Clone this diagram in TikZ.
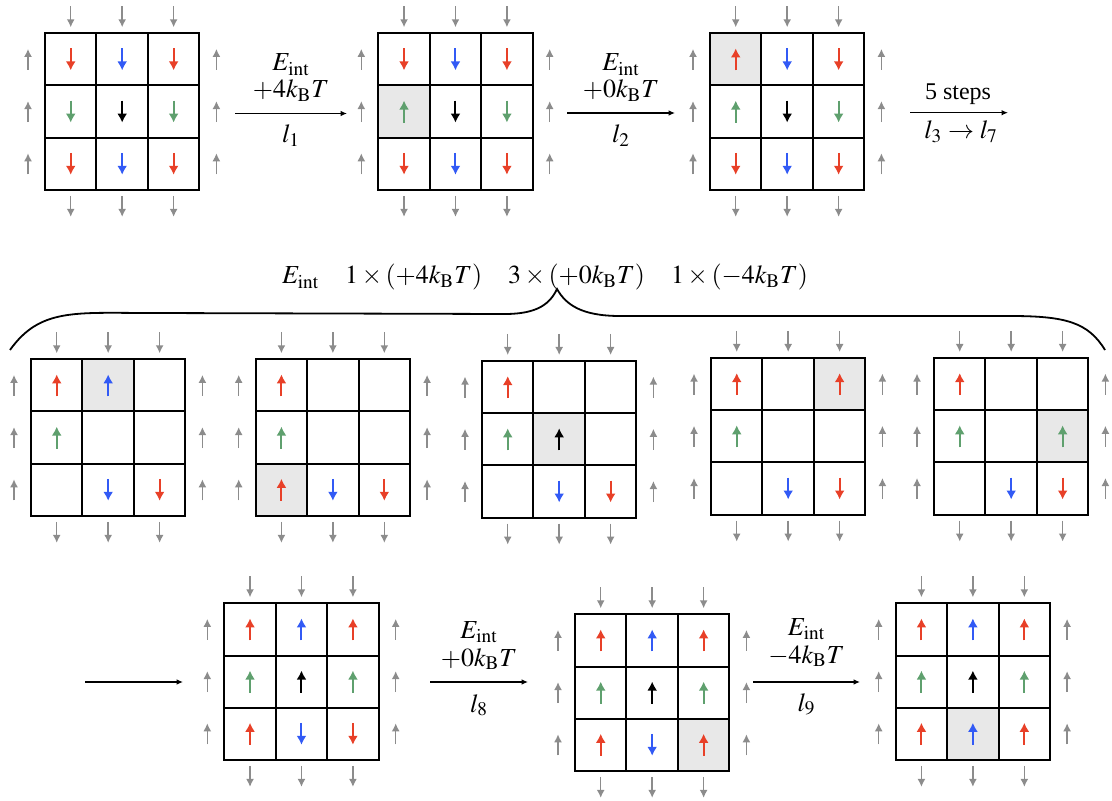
\documentclass[tikz,border=0pt,12pt]{standalone}
\usepackage{mathptmx}
\usepackage[no-math]{fontspec}
\setmainfont{Liberation Serif}
\usetikzlibrary{arrows.meta}

\definecolor{sred}{RGB}{232,64,40}
\definecolor{sblue}{RGB}{50,90,245}
\definecolor{sgreen}{RGB}{95,160,110}
\definecolor{sgray}{RGB}{140,140,140}
\definecolor{sshade}{RGB}{232,232,232}

\tikzset{
  spin/.style={line width=1pt,-{Latex[length=4.5pt,width=5pt]}},
  bath/.style={sgray,line width=0.75pt,-{Latex[length=4pt,width=4pt]}},
  cellbox/.style={draw,line width=1pt},
  move/.style={line width=0.7pt,-{Latex[length=3.2pt,width=2.8pt]}},
  lab/.style={anchor=base,font=\fontsize{13}{15}\selectfont},
}

% 3x3 lattice: #1,#2 top left corner, #3 spins (u/d/n), #4 flipped cell (-1 = none)
\newcommand{\lattice}[4]{%
  \foreach \s [count=\i from 0] in {#3} {
    \pgfmathtruncatemacro{\rw}{div(\i,3)}
    \pgfmathtruncatemacro{\cl}{mod(\i,3)}
    \pgfmathsetmacro{\cx}{#1+(\cl+0.5)*51.45}
    \pgfmathsetmacro{\cy}{#2+(\rw+0.5)*52.2}
    \pgfmathsetmacro{\clr}{{"sred","sblue","sred","sgreen","black","sgreen","sred","sblue","sred"}[\i]}
    \ifnum\i=#4 \fill[sshade] (\cx-25.7,\cy-26.1) rectangle (\cx+25.7,\cy+26.1);\fi
    \draw[cellbox] (\cx-25.7,\cy-26.1) rectangle (\cx+25.7,\cy+26.1);
    \if u\s \draw[spin,color=\clr] (\cx,\cy+11) -- (\cx,\cy-11);\fi
    \if d\s \draw[spin,color=\clr] (\cx,\cy-11) -- (\cx,\cy+11);\fi
  }
  % spins of the bath
  \foreach \k in {0,1,2} {
    \pgfmathsetmacro{\cx}{#1+(\k+0.5)*51.45}
    \pgfmathsetmacro{\cy}{#2+(\k+0.5)*52.2}
    \draw[bath] (\cx,#2-27) -- (\cx,#2-6);
    \draw[bath] (\cx,#2+162.6) -- (\cx,#2+183.6);
    \draw[bath] (#1-17,\cy+10.5) -- (#1-17,\cy-10.5);
    \draw[bath] (#1+171.4,\cy+10.5) -- (#1+171.4,\cy-10.5);
  }
}

\begin{document}
\begin{tikzpicture}[x=0.5pt,y=-0.5pt]
  \useasboundingbox (0,0) rectangle (1112,801);

  % prima riga
  \lattice{45}{33.3}{d,d,d,d,d,d,d,d,d}{-1}
  \lattice{378.3}{33.3}{d,d,d,u,d,d,d,d,d}{3}
  \lattice{710}{33.3}{u,d,d,u,d,d,d,d,d}{0}

  \coordinate (a1s) at (235,113.5);
  \coordinate (a1e) at (347,113.5);
  \draw[move] (a1s) -- (a1e);
  \node[lab] (e1) at (291,71) {$E_{\mathrm{int}}$};
  \node[lab] (w1) at (291,98) {$+4k_{\mathrm{B}}T$};
  \node[lab] (l1) at (291,143) {$l_1$};

  \coordinate (a2s) at (567,113);
  \coordinate (a2e) at (675,113);
  \draw[move] (a2s) -- (a2e);
  \node[lab] (e2) at (621,71) {$E_{\mathrm{int}}$};
  \node[lab] (w2) at (621,98) {$+0k_{\mathrm{B}}T$};
  \node[lab] (l2) at (621,143) {$l_2$};

  \coordinate (a3s) at (910,112.7);
  \coordinate (a3e) at (1008,112.7);
  \draw[move] (a3s) -- (a3e);
  \node[anchor=base] (st) at (958,99.5) {5 steps};
  \node[lab] (l37) at (961,139) {$l_3\rightarrow l_7$};

  % graffa
  \draw[line width=0.9pt] (10,350) .. controls (40,308) and (75,313) .. (150,313)
    -- (505,314) .. controls (537,314) and (550,304) .. (557,289)
    .. controls (566,305) and (582,316) .. (620,316)
    -- (1010,316) .. controls (1065,316) and (1088,322) .. (1105,350);
  \node[lab] (sum) at (545,284)
    {$E_{\mathrm{int}}\quad 1\times(+4k_{\mathrm{B}}T)\quad 3\times(+0k_{\mathrm{B}}T)\quad 1\times(-4k_{\mathrm{B}}T)$};

  % seconda riga
  \lattice{31}{359.3}{u,u,n,u,n,n,n,d,d}{1}
  \lattice{255.7}{359.3}{u,n,n,u,n,n,u,d,d}{6}
  \lattice{482}{361}{u,n,n,u,u,n,n,d,d}{4}
  \lattice{711}{358}{u,n,u,u,n,n,n,d,d}{2}
  \lattice{934}{358}{u,n,n,u,n,u,n,d,d}{5}

  % terza riga
  \coordinate (a4s) at (85,682);
  \coordinate (a4e) at (183,682);
  \draw[move] (a4s) -- (a4e);
  \lattice{224.3}{603.3}{u,u,u,u,u,u,u,d,d}{-1}

  \coordinate (a5s) at (430,682);
  \coordinate (a5e) at (528,682);
  \draw[move] (a5s) -- (a5e);
  \node[lab] (e5) at (479,638) {$E_{\mathrm{int}}$};
  \node[lab] (w5) at (479,666) {$+0k_{\mathrm{B}}T$};
  \node[lab] (l8) at (479,712) {$l_8$};
  \lattice{575}{614.3}{u,u,u,u,u,u,u,d,u}{8}

  \coordinate (a6s) at (753,682);
  \coordinate (a6e) at (860,682);
  \draw[move] (a6s) -- (a6e);
  \node[lab] (e6) at (806.5,635) {$E_{\mathrm{int}}$};
  \node[lab] (w6) at (806.5,663) {$-4k_{\mathrm{B}}T$};
  \node[lab] (l9) at (806.5,711) {$l_9$};
  \lattice{895.7}{603.3}{u,u,u,u,u,u,u,u,u}{7}
\end{tikzpicture}
\end{document}
